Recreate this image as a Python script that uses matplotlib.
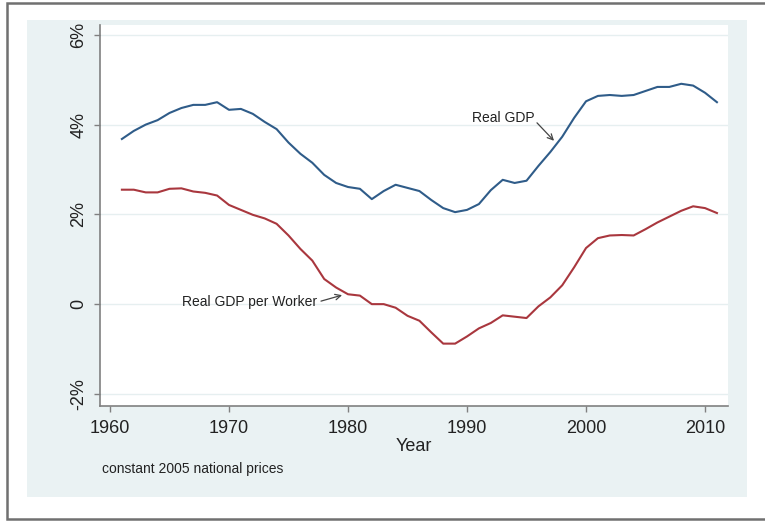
import matplotlib
matplotlib.use("Agg")
import matplotlib.pyplot as plt
from matplotlib.patches import Rectangle

plt.rcParams['font.family'] = ['Liberation Sans', 'DejaVu Sans']

years = list(range(1961, 2012))
real_gdp = [3.68, 3.86, 4.00, 4.10, 4.26, 4.37, 4.44, 4.44, 4.50, 4.33,
            4.35, 4.24, 4.06, 3.90, 3.60, 3.35, 3.15, 2.88, 2.70, 2.61,
            2.57, 2.34, 2.52, 2.66, 2.59, 2.52, 2.32, 2.14, 2.05, 2.10,
            2.23, 2.54, 2.77, 2.70, 2.75, 3.08, 3.39, 3.73, 4.15, 4.52,
            4.64, 4.66, 4.64, 4.66, 4.75, 4.84, 4.84, 4.91, 4.87, 4.71,
            4.50]
real_gdp_per_worker = [2.55, 2.55, 2.49, 2.49, 2.57, 2.58, 2.51, 2.48, 2.42, 2.21,
                       2.10, 1.99, 1.91, 1.79, 1.53, 1.23, 0.97, 0.56, 0.37, 0.22,
                       0.19, 0.00, 0.00, -0.08, -0.26, -0.37, -0.63, -0.88, -0.88, -0.72,
                       -0.54, -0.42, -0.25, -0.28, -0.31, -0.05, 0.15, 0.42, 0.82, 1.25,
                       1.47, 1.53, 1.54, 1.53, 1.67, 1.82, 1.95, 2.08, 2.18, 2.14,
                       2.03]
x_ticks = [1960, 1970, 1980, 1990, 2000, 2010]
y_ticks = [-2, 0, 2, 4, 6]
y_tick_labels = ['-2%', '0', '2%', '4%', '6%']

W, H = 765, 521
fig = plt.figure(figsize=(W / 100, H / 100), dpi=100)
fig.patch.set_facecolor('white')

# outer frame
fig.add_artist(Rectangle((7 / W, 1 - 519 / H), (W + 5 - 7) / W, (519 - 3) / H,
                         transform=fig.transFigure, facecolor='white',
                         edgecolor='#707070', lw=1.8, zorder=0))
# graph region
fig.add_artist(Rectangle((27 / W, 1 - 497 / H), 720 / W, 477 / H,
                         transform=fig.transFigure, facecolor='#eaf2f3',
                         edgecolor='none', zorder=0.5))

ax = fig.add_axes([100 / W, 1 - 406 / H, 628 / W, 381 / H])
ax.set_facecolor('white')
ax.set_zorder(1)

ax.plot(years, real_gdp, color='#2f5c89', lw=1.5)
ax.plot(years, real_gdp_per_worker, color='#a9373e', lw=1.5)

ax.set_xlim(1959.16, 2011.93)
ax.set_ylim(-2.27, 6.22)
ax.set_xticks(x_ticks)
ax.set_yticks(y_ticks)
ax.set_yticklabels(y_tick_labels, rotation=90, va='center')
ax.grid(axis='y', color='#e6eff0', lw=1)
ax.set_axisbelow(True)

for s in ['top', 'right']:
    ax.spines[s].set_visible(False)
for s in ['left', 'bottom']:
    ax.spines[s].set_color('#808080')
    ax.spines[s].set_linewidth(1.2)
ax.tick_params(axis='both', colors='#808080', length=4, width=1, labelsize=13,
               labelcolor='#222222')
ax.tick_params(axis='x', pad=6)
ax.tick_params(axis='y', pad=5)

ax.set_xlabel('Year', fontsize=13, color='#222222', labelpad=1)

# annotations
ax.text(1995.71, 4.15, 'Real GDP', fontsize=10, color='#222222',
        ha='right', va='center')
ax.annotate('', xy=(1997.31, 3.64), xytext=(1995.88, 4.04),
            arrowprops=dict(arrowstyle='->', color='#444444', lw=0.9,
                            shrinkA=0, shrinkB=0))
ax.text(1977.37, 0.05, 'Real GDP per Worker', fontsize=10, color='#222222',
        ha='right', va='center')
ax.annotate('', xy=(1979.5, 0.2), xytext=(1977.73, 0.067),
            arrowprops=dict(arrowstyle='->', color='#444444', lw=0.9,
                            shrinkA=0, shrinkB=0))

fig.text(102 / W, 1 - 469 / H, 'constant 2005 national prices', fontsize=10,
         color='#222222', ha='left', va='center')

fig.savefig('out.png', dpi=100)
